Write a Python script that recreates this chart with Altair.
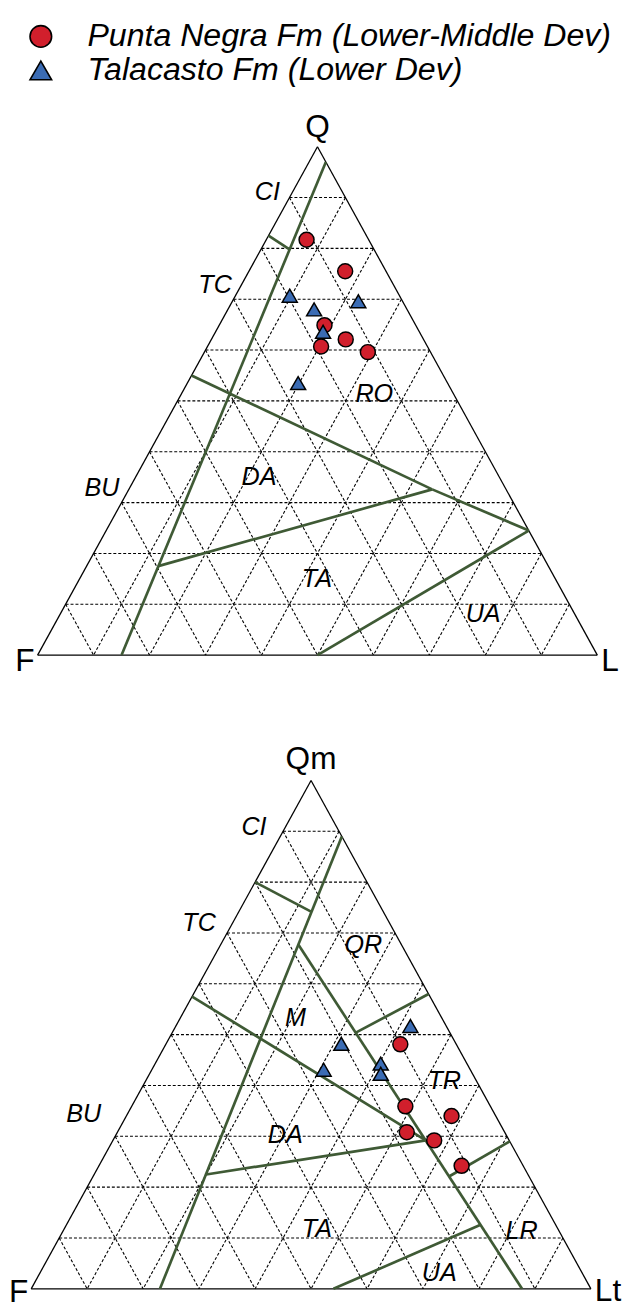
import altair as alt
import pandas as pd

# ------------------------------------------------------------------ data
series = ["Punta Negra Fm (Lower-Middle Dev)", "Talacasto Fm (Lower Dev)"]
series_colors = ["#d11f2c", "#3b6cb4"]
series_shapes = ["circle", "triangle-up"]
series_outline = ["black", "black"]

grid_ticks = [10, 20, 30, 40, 50, 60, 70, 80, 90]

# QFL diagram (top) - sample compositions in %
qfl_pn_Q = [81.7, 75.5, 64.9, 62.1, 60.7, 59.6]
qfl_pn_F = [11.1, 7.3, 16.3, 13.9, 19.0, 11.2]
qfl_pn_L = [7.2, 17.2, 18.8, 24.0, 20.3, 29.2]
qfl_ta_Q = [70.7, 68.0, 69.6, 63.6, 53.5]
qfl_ta_F = [19.6, 16.6, 7.9, 17.2, 26.7]
qfl_ta_L = [9.7, 15.4, 22.5, 19.2, 19.8]

# QmFLt diagram (bottom)
qm_pn_Q = [48.1, 35.9, 34.0, 30.8, 29.2, 24.2]
qm_pn_F = [10.0, 15.2, 7.9, 17.5, 13.4, 11.0]
qm_pn_L = [41.9, 48.9, 58.1, 51.7, 57.4, 64.8]
qm_ta_Q = [51.7, 48.2, 43.1, 44.3, 42.3]
qm_ta_F = [6.4, 20.5, 26.2, 15.4, 16.4]
qm_ta_L = [41.9, 31.3, 30.7, 40.3, 41.3]

# provenance field boundaries (start Q,L -> end Q,L)
qfl_b_Q1 = [97, 82.5, 55, 32.6, 17.5, 0]
qfl_b_L1 = [3, 0, 0, 54.2, 12.8, 50]
qfl_b_Q2 = [0, 79.8, 32.6, 24.5, 32.6, 24.5]
qfl_b_L2 = [15, 5.1, 54.2, 75.5, 54.2, 75.5]

qm_b_Q1 = [89, 80, 67.7, 58, 57.5, 22.5, 29, 0]
qm_b_L1 = [11, 0, 13.9, 42, 0, 20.0, 71, 54]
qm_b_Q2 = [0, 74.2, 0, 50.4, 29.2, 29.2, 22.1, 12.6]
qm_b_L2 = [23, 12.9, 87.7, 32.8, 55.9, 55.9, 63.6, 74.0]

# field names and their placement (Q, L)
qfl_fields = ["CI", "TC", "RO", "BU", "DA", "TA", "UA"]
qfl_field_Q = [91.1, 72.8, 51.3, 32.8, 35.1, 15.0, 8.0]
qfl_field_L = [-4.5, -4.7, 34.5, -4.9, 22.0, 42.4, 75.6]

qm_fields = ["CI", "TC", "QR", "M", "TR", "BU", "DA", "TA", "LR", "UA"]
qm_field_Q = [90.8, 72.0, 67.7, 53.2, 40.8, 34.4, 30.2, 11.7, 11.4, 3.0]
qm_field_L = [-5.6, -6.0, 25.5, 20.6, 53.4, -7.8, 30.3, 45.2, 81.9, 71.4]

qfl_vertices = ["Q", "F", "L"]
qm_vertices = ["Qm", "F", "Lt"]


# ------------------------------------------------------------------ helpers
def tx(Q, L):
    return L + Q / 2.0


def seg_df(q1, l1, q2, l2):
    return pd.DataFrame({
        "x": [tx(a, b) for a, b in zip(q1, l1)],
        "y": list(q1),
        "x2": [tx(a, b) for a, b in zip(q2, l2)],
        "y2": list(q2),
    })


def grid_df():
    q1, l1, q2, l2 = [], [], [], []
    for v in grid_ticks:
        q1 += [v]; l1 += [0]; q2 += [v]; l2 += [100 - v]
        q1 += [100 - v]; l1 += [v]; q2 += [0]; l2 += [v]
        q1 += [100 - v]; l1 += [0]; q2 += [0]; l2 += [100 - v]
    return seg_df(q1, l1, q2, l2)


outline = seg_df([100, 0, 0], [0, 0, 100], [0, 0, 100], [0, 100, 0])


def pts_df(pQ, pL, tQ, tL):
    rows = []
    for q, l in zip(pQ, pL):
        rows.append({"series": series[0], "x": tx(q, l), "y": q})
    for q, l in zip(tQ, tL):
        rows.append({"series": series[1], "x": tx(q, l), "y": q})
    return pd.DataFrame(rows)


def field_df(names, Q, L):
    return pd.DataFrame({"label": names, "x": [tx(a, b) for a, b in zip(Q, L)], "y": Q})


legend = alt.Legend(
    title=None, orient="none", legendX=14, legendY=4,
    labelFont="Liberation Sans", labelFontStyle="italic", labelFontSize=32.5,
    labelColor="black", labelLimit=900, labelOffset=31,
    symbolSize=480, symbolStrokeColor="black", symbolStrokeWidth=1.6,
    rowPadding=1.5,
)


def panel(pts, bnd, fields, vnames, xdom, ydom, w, h, vdy):
    X = alt.X("x:Q", scale=alt.Scale(domain=xdom, nice=False, zero=False), axis=None)
    Y = alt.Y("y:Q", scale=alt.Scale(domain=ydom, nice=False, zero=False), axis=None)

    grid = alt.Chart(grid_df()).mark_rule(
        color="black", strokeWidth=1.1, strokeDash=[3, 2]
    ).encode(X, Y, x2="x2:Q", y2="y2:Q")

    edge = alt.Chart(outline).mark_rule(color="black", strokeWidth=1.3).encode(
        X, Y, x2="x2:Q", y2="y2:Q")

    bounds = alt.Chart(bnd).mark_rule(color="#3f5a35", strokeWidth=2.7).encode(
        X, Y, x2="x2:Q", y2="y2:Q")

    flab = alt.Chart(fields).mark_text(
        font="Liberation Sans", fontStyle="italic", fontSize=25.5, color="black",
        align="center", baseline="middle"
    ).encode(X, Y, text="label:N")

    vt = field_df([vnames[0]], [100], [0])
    vf = field_df([vnames[1]], [0], [0])
    vl = field_df([vnames[2]], [0], [100])
    top_lab = alt.Chart(vt).mark_text(font="Liberation Sans", fontSize=32, color="black",
                                      align="center", baseline="alphabetic", dy=vdy[0]
                                      ).encode(X, Y, text="label:N")
    f_lab = alt.Chart(vf).mark_text(font="Liberation Sans", fontSize=32, color="black",
                                    align="right", baseline="alphabetic", dx=-3, dy=vdy[1]
                                    ).encode(X, Y, text="label:N")
    l_lab = alt.Chart(vl).mark_text(font="Liberation Sans", fontSize=32, color="black",
                                    align="left", baseline="alphabetic", dx=4, dy=vdy[2]
                                    ).encode(X, Y, text="label:N")

    points = alt.Chart(pts).mark_point(
        filled=True, strokeWidth=1.5, opacity=1, size=230
    ).encode(
        X, Y,
        fill=alt.Fill("series:N", scale=alt.Scale(domain=series, range=series_colors), legend=legend),
        shape=alt.Shape("series:N", scale=alt.Scale(domain=series, range=series_shapes), legend=legend),
        stroke=alt.Stroke("series:N", scale=alt.Scale(domain=series, range=series_outline), legend=legend),
    )

    return alt.layer(grid, edge, bounds, flab, top_lab, f_lab, l_lab, points).properties(
        width=w, height=h)


top = panel(
    pts_df(qfl_pn_Q, qfl_pn_L, qfl_ta_Q, qfl_ta_L),
    seg_df(qfl_b_Q1, qfl_b_L1, qfl_b_Q2, qfl_b_L2),
    field_df(qfl_fields, qfl_field_Q, qfl_field_L),
    qfl_vertices,
    [-4.762, 103.527], [-8.738, 125.631], 614, 692, [-10, 16, 16],
)

bottom = panel(
    pts_df(qm_pn_Q, qm_pn_L, qm_ta_Q, qm_ta_L),
    seg_df(qm_b_Q1, qm_b_L1, qm_b_Q2, qm_b_L2),
    field_df(qm_fields, qm_field_Q, qm_field_L),
    qm_vertices,
    [-3.616, 104.674], [-0.388, 115.922], 614, 599, [-12, 13, 12],
)

chart = alt.vconcat(top, bottom, spacing=0, bounds="flush").resolve_scale(
    x="independent", y="independent", fill="shared", shape="shared", stroke="shared"
).resolve_legend(fill="shared", shape="shared", stroke="shared").properties(
    padding=0, autosize=alt.AutoSizeParams(type="pad"), background="white"
).configure_view(stroke=None)

chart.save("out.html", embed_options={"renderer": "svg", "actions": False})
